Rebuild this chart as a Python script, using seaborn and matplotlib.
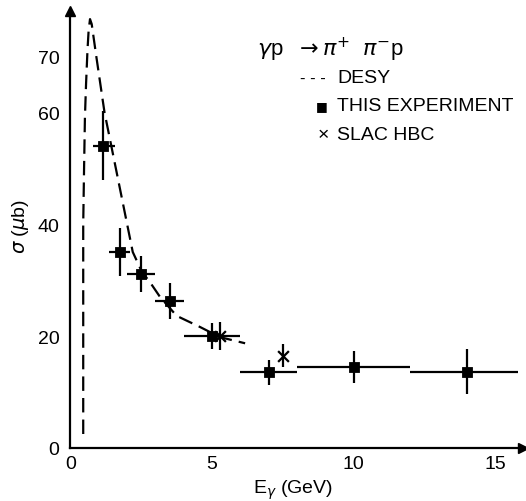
import matplotlib
matplotlib.use("Agg")
import matplotlib.pyplot as plt
import numpy as np
import pandas as pd
import seaborn as sns

# DESY curve
desy_e = [0.45, 0.45, 0.48, 0.51, 0.55, 0.60, 0.64, 0.69, 0.75, 0.91, 1.20,
          1.60, 2.00, 2.20, 2.52, 2.81, 3.16, 3.75, 4.58, 5.28, 6.17]
desy_sigma = [2.5, 40, 50, 59, 65, 71, 74.5, 76.6, 75.7, 70, 60,
              50, 40, 35, 31.5, 29.6, 27, 23.6, 21.6, 19.8, 18.7]

# this experiment
exp_e = [1.16, 1.75, 2.5, 3.5, 5.0, 7.0, 10.0, 14.0]
exp_e_lo = [0.78, 1.37, 2.0, 3.0, 4.0, 6.0, 8.0, 12.0]
exp_e_hi = [1.57, 2.10, 3.0, 4.0, 6.0, 8.0, 12.0, 15.8]
exp_sigma = [54, 35, 31, 26.3, 20, 13.5, 14.5, 13.6]
exp_err = [6.2, 4.2, 3.2, 3.2, 2.3, 2.2, 2.9, 4.0]

# SLAC HBC
slac_e = [5.28, 7.52]
slac_sigma = [20, 16.5]
slac_err = [2.5, 2.1]

y_ticks = [0, 10, 20, 30, 40, 50, 60, 70]
y_labels = ["0", "", "20", "", "40", "", "60", "70"]
x_ticks = [0, 5, 10, 15]

sns.set_style("white")
plt.rcParams["font.family"] = ["Liberation Sans", "DejaVu Sans"]
plt.rcParams["mathtext.fontset"] = "dejavusans"
for key in ["text.color", "axes.labelcolor", "xtick.color", "ytick.color",
            "axes.edgecolor"]:
    plt.rcParams[key] = "black"

fig = plt.figure(figsize=(5.26, 5.02), dpi=100)
ax = fig.add_axes([0.134, 0.1056, 0.861, 0.870])

desy = pd.DataFrame({"E": desy_e, "sigma": desy_sigma})
sns.lineplot(desy, x="E", y="sigma", sort=False, color="black", lw=1.6,
             ax=ax, estimator=None)
ax.lines[-1].set_dashes((6.5, 3.2))

xerr = [np.array(exp_e) - np.array(exp_e_lo), np.array(exp_e_hi) - np.array(exp_e)]
ax.errorbar(exp_e, exp_sigma, xerr=xerr, yerr=exp_err, fmt="none",
            ecolor="black", elinewidth=1.6, capsize=0)
exp = pd.DataFrame({"E": exp_e, "sigma": exp_sigma})
sns.scatterplot(exp, x="E", y="sigma", marker="s", s=55, color="black",
                edgecolor="black", ax=ax, zorder=5)

ax.errorbar(slac_e, slac_sigma, yerr=slac_err, fmt="none",
            ecolor="black", elinewidth=1.6, capsize=0)
slac = pd.DataFrame({"E": slac_e, "sigma": slac_sigma})
sns.scatterplot(slac, x="E", y="sigma", marker="x", s=60, color="black",
                linewidth=1.6, ax=ax, zorder=5)

ax.set_xlim(0, 16)
ax.set_ylim(0, 78)
ax.set_yticks(y_ticks)
ax.set_yticklabels(y_labels)
ax.set_xticks(x_ticks)
ax.tick_params(axis="y", direction="inout", length=12, width=1.3,
               labelsize=14, pad=2)
ax.tick_params(axis="x", direction="in", length=14, width=1.3,
               labelsize=14, pad=5)
sns.despine(ax=ax)
for side in ["left", "bottom"]:
    ax.spines[side].set_linewidth(1.6)
ax.plot(1, 0, ">k", transform=ax.get_yaxis_transform(), clip_on=False, ms=7)
ax.plot(0, 1, "^k", transform=ax.get_xaxis_transform(), clip_on=False, ms=7)

ax.set_xlabel(r"E$_\gamma$ (GeV)", fontsize=14)
ax.xaxis.set_label_coords(0.491, -0.094)
ax.xaxis.label.set_va("center")
ax.set_ylabel(r"$\sigma$ ($\mu$b)", fontsize=14)
ax.yaxis.set_label_coords(-0.111, 0.51)
ax.yaxis.label.set_va("center")

ax.text(6.6, 71.3, r"$\gamma$p  $\rightarrow\pi^{+}\;\;\pi^{-}$p", fontsize=16,
        va="center")
ax.text(8.1, 66.2, "- - -", fontsize=12, va="center")
ax.text(9.42, 66.2, "DESY", fontsize=14, va="center")
ax.text(8.87, 61.2, "■", fontsize=9, va="center", ha="center",
        family="DejaVu Sans")
ax.text(9.42, 61.2, "THIS EXPERIMENT", fontsize=14, va="center")
ax.text(8.95, 55.9, "×", fontsize=14, va="center", ha="center")
ax.text(9.42, 55.9, "SLAC HBC", fontsize=14, va="center")

fig.savefig("out.png", dpi=100)
